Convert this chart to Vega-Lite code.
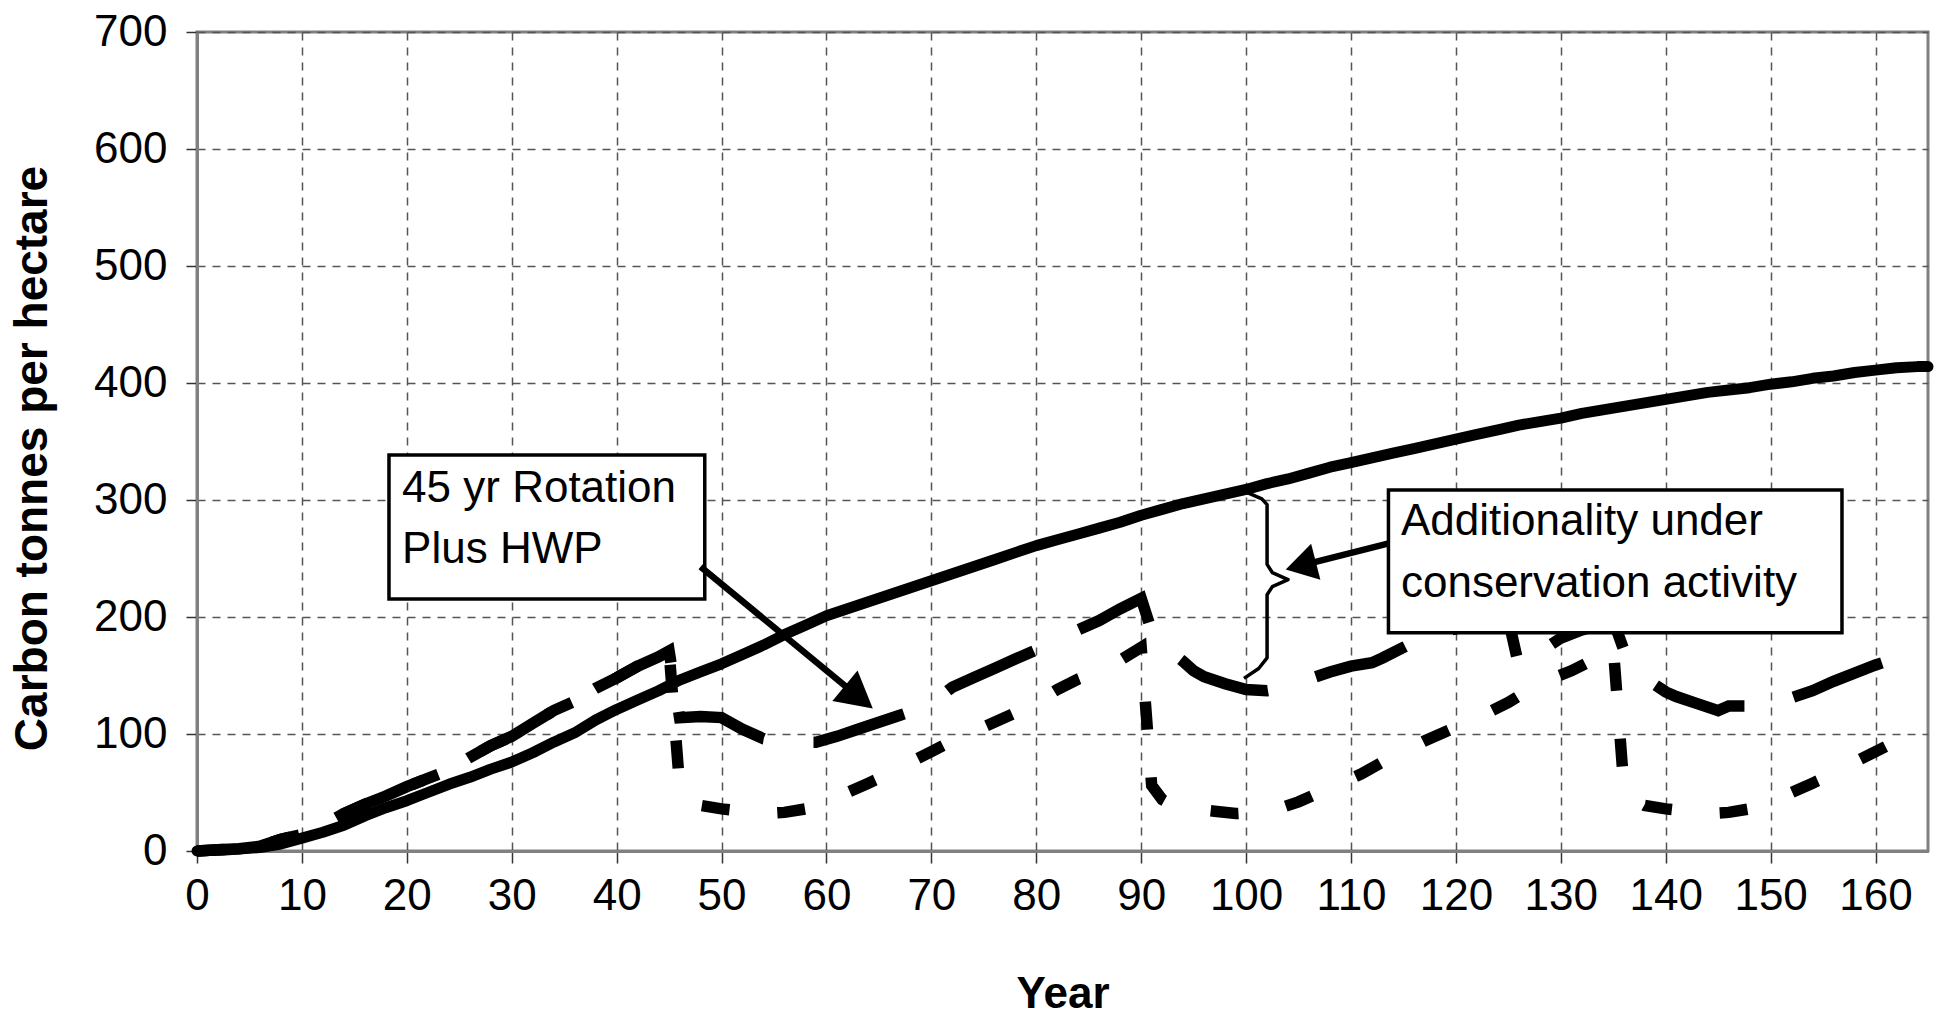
{
  "$schema": "https://vega.github.io/schema/vega-lite/v6.json",
  "width": 1731,
  "height": 819,
  "autosize": {"type": "none"},
  "padding": {"left": 197, "top": 32, "right": 7, "bottom": 172},
  "background": "white",
  "datasets": {
    "conservation": [
      {"year":0,"value":0},{"year":3,"value":1},{"year":6,"value":3},{"year":8,"value":6},{"year":10,"value":11},{"year":12,"value":16},{"year":14,"value":22},{"year":16,"value":30},{"year":18,"value":37},{"year":20,"value":43},{"year":22,"value":50},{"year":24,"value":57},{"year":26,"value":63},{"year":28,"value":70},{"year":30,"value":76},{"year":32,"value":84},{"year":34,"value":93},{"year":36,"value":101},{"year":38,"value":112},{"year":40,"value":121},{"year":42,"value":129},{"year":44,"value":137},{"year":46,"value":146},{"year":48,"value":153},{"year":50,"value":160},{"year":52,"value":168},{"year":54,"value":176},{"year":56,"value":185},{"year":58,"value":193},{"year":60,"value":201},{"year":62,"value":207},{"year":64,"value":213},{"year":66,"value":219},{"year":68,"value":225},{"year":70,"value":231},{"year":72,"value":237},{"year":74,"value":243},{"year":76,"value":249},{"year":78,"value":255},{"year":80,"value":261},{"year":82,"value":266},{"year":84,"value":271},{"year":86,"value":276},{"year":88,"value":281},{"year":90,"value":287},{"year":92,"value":292},{"year":94,"value":297},{"year":96,"value":301},{"year":98,"value":305},{"year":100,"value":309},{"year":102,"value":314},{"year":104,"value":318},{"year":106,"value":323},{"year":108,"value":328},{"year":110,"value":332},{"year":112,"value":336},{"year":114,"value":340},{"year":116,"value":344},{"year":118,"value":348},{"year":120,"value":352},{"year":122,"value":356},{"year":124,"value":360},{"year":126,"value":364},{"year":128,"value":367},{"year":130,"value":370},{"year":132,"value":374},{"year":134,"value":377},{"year":136,"value":380},{"year":138,"value":383},{"year":140,"value":386},{"year":142,"value":389},{"year":144,"value":392},{"year":146,"value":394},{"year":148,"value":396},{"year":150,"value":399},{"year":152,"value":401},{"year":154,"value":404},{"year":156,"value":406},{"year":158,"value":409},{"year":160,"value":411},{"year":162,"value":413},{"year":164,"value":414},{"year":165,"value":414}
    ],
    "hwp": [
      {"year":0,"value":0},{"year":2,"value":1},{"year":4,"value":2},{"year":6,"value":4},{"year":8,"value":10},{"year":10,"value":14},{"year":12,"value":22},{"year":14,"value":32},{"year":16,"value":40},{"year":18,"value":47},{"year":20,"value":55},{"year":22,"value":62},{"year":24,"value":69},{"year":26,"value":80},{"year":28,"value":90},{"year":30,"value":98},{"year":32,"value":109},{"year":34,"value":120},{"year":36,"value":128},{"year":38,"value":139},{"year":40,"value":148},{"year":42,"value":158},{"year":44,"value":166},{"year":45,"value":171},
      {"year":46,"value":114},{"year":48,"value":115},{"year":50,"value":114},{"year":52,"value":104},{"year":54,"value":96},{"year":56,"value":93},{"year":59,"value":93},{"year":61,"value":98},{"year":63,"value":104},{"year":65,"value":110},{"year":67,"value":116},{"year":69,"value":122},{"year":70,"value":126},{"year":72,"value":140},{"year":74,"value":148},{"year":76,"value":156},{"year":78,"value":164},{"year":80,"value":172},{"year":82,"value":181},{"year":84,"value":189},{"year":86,"value":197},{"year":88,"value":207},{"year":90,"value":216},
      {"year":91,"value":188},{"year":92,"value":177},{"year":93,"value":169},{"year":94,"value":162},{"year":95,"value":154},{"year":96,"value":149},{"year":98,"value":143},{"year":100,"value":138},{"year":102,"value":137},{"year":104,"value":140},{"year":106,"value":147},{"year":108,"value":153},{"year":110,"value":158},{"year":112,"value":161},{"year":113,"value":165},{"year":115,"value":174},{"year":117,"value":183},{"year":119,"value":188},{"year":121,"value":192},{"year":123,"value":195},{"year":125,"value":198},
      {"year":126,"value":158},{"year":128,"value":170},{"year":130,"value":182},{"year":132,"value":189},{"year":134,"value":194},{"year":135,"value":197},
      {"year":136,"value":172},{"year":137,"value":161},{"year":138,"value":151},{"year":139,"value":142},{"year":140,"value":136},{"year":141,"value":132},{"year":143,"value":126},{"year":145,"value":120},{"year":146,"value":124},{"year":148,"value":124},{"year":150,"value":126},{"year":152,"value":131},{"year":154,"value":137},{"year":156,"value":145},{"year":158,"value":152},{"year":160,"value":159},{"year":162,"value":165},{"year":164,"value":170},{"year":165,"value":173}
    ],
    "rotation": [
      {"year":0,"value":0},{"year":2,"value":1},{"year":4,"value":2},{"year":6,"value":4},{"year":8,"value":10},{"year":10,"value":14},{"year":12,"value":22},{"year":14,"value":32},{"year":16,"value":40},{"year":18,"value":47},{"year":20,"value":55},{"year":22,"value":62},{"year":24,"value":69},{"year":26,"value":80},{"year":28,"value":90},{"year":30,"value":98},{"year":32,"value":109},{"year":34,"value":120},{"year":36,"value":128},{"year":38,"value":139},{"year":40,"value":148},{"year":42,"value":158},{"year":44,"value":166},{"year":45,"value":171},
      {"year":46,"value":56},{"year":47,"value":44},{"year":48,"value":39},{"year":50,"value":36},{"year":52,"value":34},{"year":54,"value":32},{"year":56,"value":33},{"year":58,"value":36},{"year":60,"value":42},{"year":62,"value":50},{"year":64,"value":58},{"year":66,"value":66},{"year":68,"value":76},{"year":70,"value":85},{"year":72,"value":94},{"year":74,"value":102},{"year":76,"value":110},{"year":78,"value":118},{"year":80,"value":127},{"year":82,"value":138},{"year":84,"value":147},{"year":86,"value":154},{"year":88,"value":163},{"year":90,"value":174},
      {"year":91,"value":56},{"year":92,"value":44},{"year":93,"value":39},{"year":95,"value":36},{"year":97,"value":34},{"year":99,"value":32},{"year":101,"value":33},{"year":103,"value":36},{"year":105,"value":42},{"year":107,"value":50},{"year":109,"value":58},{"year":111,"value":66},{"year":113,"value":76},{"year":115,"value":85},{"year":117,"value":94},{"year":119,"value":102},{"year":121,"value":110},{"year":123,"value":118},{"year":125,"value":127},{"year":127,"value":138},{"year":129,"value":147},{"year":131,"value":154},{"year":133,"value":163},{"year":135,"value":174},
      {"year":136,"value":56},{"year":137,"value":44},{"year":138,"value":39},{"year":140,"value":36},{"year":142,"value":34},{"year":144,"value":32},{"year":146,"value":33},{"year":148,"value":36},{"year":150,"value":42},{"year":152,"value":50},{"year":154,"value":58},{"year":156,"value":66},{"year":158,"value":76},{"year":160,"value":85},{"year":162,"value":94},{"year":164,"value":102},{"year":165,"value":106}
    ],
    "boxes": [
      {"year":18.3,"year2":48.4,"value":338.4,"value2":215.3},
      {"year":113.57,"year2":156.8,"value":308.5,"value2":186.6}
    ],
    "labels": [
      {"year":19.55,"value":298.5,"label":"45 yr Rotation"},
      {"year":19.55,"value":245.8,"label":"Plus HWP"},
      {"year":114.76,"value":270.0,"label":"Additionality under"},
      {"year":114.76,"value":217.2,"label":"conservation activity"}
    ],
    "arrowlines": [
      {"year":48.0,"value":242.9,"year2":63.09,"value2":131.5},
      {"year":113.6,"value":262.9,"year2":105.21,"value2":243.9}
    ],
    "head1": [{"year":63.09,"value":131.5}],
    "head2": [{"year":105.21,"value":243.9}],
    "brace": [
      {"ord":1,"year":99.9,"value":307.2},{"ord":2,"year":101.5,"value":301},{"ord":3,"year":102.0,"value":296},{"ord":4,"year":102.0,"value":245},{"ord":5,"year":102.5,"value":238},{"ord":6,"year":104.0,"value":232},{"ord":7,"year":102.5,"value":226},{"ord":8,"year":102.0,"value":219},{"ord":9,"year":102.0,"value":165},{"ord":10,"year":101.2,"value":156},{"ord":11,"year":99.8,"value":147.5}
    ]
  },
  "layer": [
    {
      "data": {"name": "conservation"},
      "mark": {"type": "line", "color": "black", "strokeWidth": 11, "strokeJoin": "round", "strokeCap": "round"},
      "encoding": {
        "x": {
          "field": "year", "type": "quantitative", "title": "Year",
          "scale": {"domain": [0, 165], "nice": false, "zero": false},
          "axis": {
            "values": [0,10,20,30,40,50,60,70,80,90,100,110,120,130,140,150,160],
            "grid": true, "gridColor": "#555555", "gridDash": [8, 7], "gridWidth": 1.5,
            "domainColor": "#808080", "domainWidth": 3,
            "tickColor": "#333333", "tickWidth": 1.5, "tickSize": 12,
            "labelFontSize": 44, "labelColor": "black", "labelPadding": 11, "labelFont": "Liberation Sans",
            "labelOverlap": false, "labelFlush": false, "labelBound": false,
            "titleFontSize": 44, "titleFontWeight": "bold", "titleColor": "black", "titleFont": "Liberation Sans",
            "titleBaseline": "alphabetic", "titleY": 156
          }
        },
        "y": {
          "field": "value", "type": "quantitative", "title": "Carbon tonnes per hectare",
          "scale": {"domain": [0, 700], "nice": false},
          "axis": {
            "values": [0,100,200,300,400,500,600,700],
            "grid": true, "gridColor": "#555555", "gridDash": [8, 7], "gridWidth": 1.5,
            "domainColor": "#808080", "domainWidth": 3,
            "tickColor": "#333333", "tickWidth": 1.5, "tickSize": 11,
            "labelFontSize": 44, "labelColor": "black", "labelPadding": 19, "labelFont": "Liberation Sans",
            "labelOverlap": false, "labelFlush": false, "labelBound": false,
            "titleFontSize": 46, "titleFontWeight": "bold", "titleColor": "black", "titleFont": "Liberation Sans",
            "titleAngle": 270, "titleAlign": "center", "titleBaseline": "alphabetic", "titleX": -151, "titleY": 426
          }
        }
      }
    },
    {
      "data": {"name": "rotation"},
      "mark": {"type": "line", "color": "black", "strokeWidth": 11.5, "strokeDash": [28, 48], "strokeCap": "butt", "strokeJoin": "miter"},
      "encoding": {
        "x": {"field": "year", "type": "quantitative", "title": "Year"},
        "y": {"field": "value", "type": "quantitative", "title": "Carbon tonnes per hectare"}
      }
    },
    {
      "data": {"name": "hwp"},
      "mark": {"type": "line", "color": "black", "strokeWidth": 11.5, "strokeDash": [95, 50], "strokeCap": "butt", "strokeJoin": "miter"},
      "encoding": {
        "x": {"field": "year", "type": "quantitative", "title": "Year"},
        "y": {"field": "value", "type": "quantitative", "title": "Carbon tonnes per hectare"}
      }
    },
    {
      "data": {"name": "boxes"},
      "mark": {"type": "rect", "fill": "white", "stroke": "black", "strokeWidth": 3.5},
      "encoding": {
        "x": {"field": "year", "type": "quantitative", "title": "Year"},
        "x2": {"field": "year2"},
        "y": {"field": "value", "type": "quantitative", "title": "Carbon tonnes per hectare"},
        "y2": {"field": "value2"}
      }
    },
    {
      "data": {"name": "labels"},
      "mark": {"type": "text", "align": "left", "baseline": "alphabetic", "fontSize": 44, "font": "Liberation Sans", "color": "black"},
      "encoding": {
        "x": {"field": "year", "type": "quantitative", "title": "Year"},
        "y": {"field": "value", "type": "quantitative", "title": "Carbon tonnes per hectare"},
        "text": {"field": "label"}
      }
    },
    {
      "data": {"name": "arrowlines"},
      "mark": {"type": "rule", "color": "black", "strokeWidth": 6.5},
      "encoding": {
        "x": {"field": "year", "type": "quantitative", "title": "Year"},
        "x2": {"field": "year2"},
        "y": {"field": "value", "type": "quantitative", "title": "Carbon tonnes per hectare"},
        "y2": {"field": "value2"}
      }
    },
    {
      "data": {"name": "head1"},
      "mark": {"type": "point", "shape": "M0,-1L1.1,1L-1.1,1Z", "filled": true, "color": "black", "opacity": 1, "size": 1296, "angle": 129.4},
      "encoding": {
        "x": {"field": "year", "type": "quantitative", "title": "Year"},
        "y": {"field": "value", "type": "quantitative", "title": "Carbon tonnes per hectare"}
      }
    },
    {
      "data": {"name": "head2"},
      "mark": {"type": "point", "shape": "M0,-1L1.2,1L-1.2,1Z", "filled": true, "color": "black", "opacity": 1, "size": 961, "angle": 255.6},
      "encoding": {
        "x": {"field": "year", "type": "quantitative", "title": "Year"},
        "y": {"field": "value", "type": "quantitative", "title": "Carbon tonnes per hectare"}
      }
    },
    {
      "data": {"name": "brace"},
      "mark": {"type": "line", "color": "black", "strokeWidth": 3.5, "strokeJoin": "round"},
      "encoding": {
        "x": {"field": "year", "type": "quantitative", "title": "Year"},
        "y": {"field": "value", "type": "quantitative", "title": "Carbon tonnes per hectare"},
        "order": {"field": "ord", "type": "quantitative"}
      }
    }
  ],
  "config": {
    "font": "Liberation Sans",
    "view": {"stroke": "#808080", "strokeWidth": 3}
  }
}
